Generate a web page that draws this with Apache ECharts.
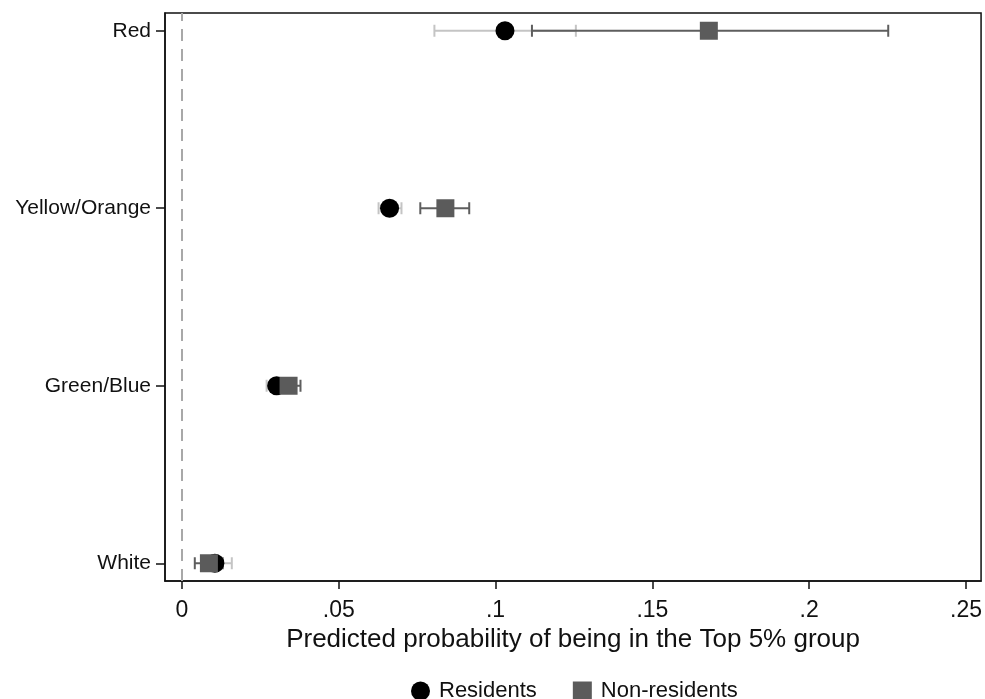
<!DOCTYPE html>
<html><head><meta charset="utf-8">
<script src="https://cdn.jsdelivr.net/npm/echarts@6/dist/echarts.min.js"></script>
<style>html,body{margin:0;padding:0;background:#fff}#c{width:985px;height:699px}</style>
</head><body><div id="c"></div>
<script>
const categories = ["White", "Green/Blue", "Yellow/Orange", "Red"];
const residentsEst  = [0.0105, 0.0302, 0.0662, 0.103];
const residentsLow  = [0.0070, 0.0270, 0.0627, 0.0805];
const residentsHigh = [0.0159, 0.0345, 0.0700, 0.1256];
const nonresEst  = [0.0086, 0.0340, 0.0840, 0.168];
const nonresLow  = [0.0041, 0.0310, 0.0760, 0.1116];
const nonresHigh = [0.0130, 0.0378, 0.0916, 0.2252];
const xTicks = [0, 0.05, 0.1, 0.15, 0.2, 0.25];
const yPos = [1, 2, 3, 4];

const FONT = "Liberation Sans";
function errSeries(low, high, color) {
  return {
    type: 'custom', silent: true, z: 3,
    data: yPos.map((y, i) => [low[i], high[i], y]),
    renderItem: function (params, api) {
      const a = api.coord([api.value(0), api.value(2)]);
      const b = api.coord([api.value(1), api.value(2)]);
      const h = 6;
      const st = { stroke: color, lineWidth: 2 };
      return { type: 'group', children: [
        { type: 'line', shape: { x1: a[0], y1: a[1], x2: b[0], y2: b[1] }, style: st },
        { type: 'line', shape: { x1: a[0], y1: a[1] - h, x2: a[0], y2: a[1] + h }, style: st },
        { type: 'line', shape: { x1: b[0], y1: b[1] - h, x2: b[0], y2: b[1] + h }, style: st }
      ]};
    }
  };
}

const chart = echarts.init(document.getElementById('c'));
chart.setOption({
  animation: false,
  backgroundColor: '#fff',
  grid: { left: 165, right: 2, top: 13, bottom: 118, show: true, borderColor: '#111', borderWidth: 1.5, backgroundColor: '#fff' },
  xAxis: {
    type: 'value', min: -0.0054, max: 0.2548,
    name: 'Predicted probability of being in the Top 5% group',
    nameLocation: 'middle', nameGap: 45,
    nameTextStyle: { fontFamily: FONT, fontSize: 26, color: '#111' },
    axisLine: { show: true, onZero: false, lineStyle: { color: '#111', width: 1.5 } },
    axisTick: { show: true, length: 8, customValues: xTicks, lineStyle: { color: '#111', width: 1.5 } },
    axisLabel: { customValues: xTicks, margin: 18, fontFamily: FONT, fontSize: 23, color: '#111',
      formatter: v => v === 0 ? '0' : String(+v.toFixed(2)).replace(/^0/, '') },
    splitLine: { show: false }
  },
  yAxis: {
    type: 'value', min: 0.9, max: 4.1,
    axisLine: { show: true, onZero: false, lineStyle: { color: '#111', width: 1.5 } },
    axisTick: { show: true, length: 9, customValues: yPos, lineStyle: { color: '#111', width: 1.5 } },
    axisLabel: { customValues: yPos, margin: 14, fontFamily: FONT, fontSize: 21, color: '#111',
      formatter: v => categories[Math.round(v) - 1] },
    splitLine: { show: false }
  },
  legend: {
    top: 675, left: 406, itemGap: 36, itemWidth: 19, itemHeight: 19,
    textStyle: { fontFamily: FONT, fontSize: 22, color: '#111', padding: [0, 0, 0, 4] },
    data: [{ name: 'Residents', icon: 'circle' }, { name: 'Non-residents', icon: 'rect' }]
  },
  series: [
    Object.assign(errSeries(residentsLow, residentsHigh, '#c4c4c4'), {
      markLine: {
        silent: true, symbol: 'none', label: { show: false },
        lineStyle: { color: '#a8a8a8', type: [12, 8], width: 2 },
        data: [{ xAxis: 0 }]
      }
    }),
    errSeries(nonresLow, nonresHigh, '#5e5e5e'),
    { name: 'Residents', type: 'scatter', z: 4, symbol: 'circle', symbolSize: 19,
      itemStyle: { color: '#000', opacity: 1 },
      data: yPos.map((y, i) => [residentsEst[i], y]) },
    { name: 'Non-residents', type: 'scatter', z: 5, symbol: 'rect', symbolSize: 18,
      itemStyle: { color: '#5b5b5b', opacity: 1 },
      data: yPos.map((y, i) => [nonresEst[i], y]) }
  ]
});
</script></body></html>
